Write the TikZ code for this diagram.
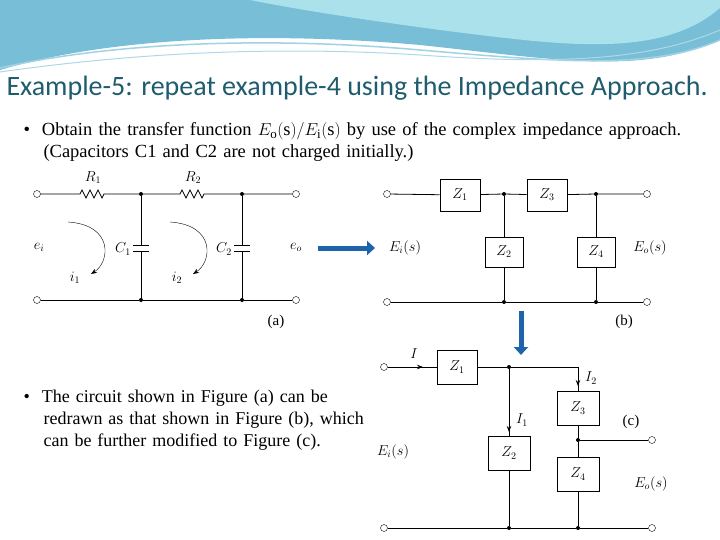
\documentclass[tikz,border=0pt]{standalone}
\usepackage{fontspec}
\setmainfont{Liberation Serif}
\newfontfamily\titlefont{Carlito}
\usetikzlibrary{positioning,arrows.meta}
\definecolor{titleteal}{RGB}{31,92,110}
\definecolor{wavea}{RGB}{120,190,215}
\definecolor{waveb}{RGB}{170,225,235}
\definecolor{bluearrow}{RGB}{30,100,170}
\begin{document}
\begin{tikzpicture}[x=1pt,y=-1pt,
    wire/.style={line width=0.8pt},
    zbox/.style={draw,line width=0.8pt,minimum width=40pt,minimum height=32pt,inner sep=0pt,font=\Large},
    term/.style={circle,draw,fill=white,inner sep=0pt,minimum size=7pt},
    dot/.style={circle,fill,inner sep=0pt,minimum size=4pt},
    lbl/.style={font=\Large},
    bigarrow/.style={-{Triangle[length=8pt,width=14pt]},line width=5pt,bluearrow}
  ]
  \useasboundingbox (0,0) rectangle (720,540);

  % header waves
  \fill[wavea] (0,0) -- (720,0) -- (720,40) .. controls (640,75) and (560,60) .. (420,45) .. controls (250,30) and (100,40) .. (0,70) -- cycle;
  \fill[waveb] (250,0) -- (720,0) -- (720,8) .. controls (660,60) and (560,45) .. (440,30) .. controls (350,18) and (290,8) .. (250,0) -- cycle;
  \draw[wavea!70!white,line width=1.5pt] (0,68) .. controls (100,45) and (250,35) .. (420,50) .. controls (560,62) and (650,70) .. (720,40);
  \draw[wavea!60!white,line width=1pt] (0,72) .. controls (120,55) and (260,45) .. (420,55) .. controls (560,65) and (650,60) .. (720,30);

  % title and bullets
  \node[anchor=west,font=\titlefont\fontsize{28}{30}\selectfont,text=titleteal] (title) at (3,88) {Example-5: repeat example-4 using the Impedance Approach.};
  \node[anchor=north west,text width=700pt,align=left,font=\fontsize{18.5}{22}\selectfont] (bul1) at (20,119)
    {\textbullet\hspace{12pt}Obtain the transfer function $E_{\mathrm{o}}(\mathrm{s})/E_{\mathrm{i}}(\mathrm{s})$ by use of the complex impedance approach.\\
     \hspace*{20pt}(Capacitors C1 and C2 are not charged initially.)};
  \node[anchor=north west,text width=360pt,align=left,font=\fontsize{18}{22}\selectfont] (bul2) at (20,386)
    {\textbullet\hspace{12pt}The circuit shown in Figure (a) can be\\
     \hspace*{20pt}redrawn as that shown in Figure (b), which\\
     \hspace*{20pt}can be further modified to Figure (c).};

  % circuit (a)
  \node[term] (a1) at (37,194) {};
  \node[term] (a2) at (37,300) {};
  \node[term] (a3) at (296,194) {};
  \node[term] (a4) at (296,300) {};
  \node[dot] (an1) at (141,194) {};
  \node[dot] (an2) at (242,194) {};
  \node[dot] (an3) at (141,300) {};
  \node[dot] (an4) at (242,300) {};
  \draw[wire] (a1) -- (80,194) -- ++(2,-4) -- ++(4,8) -- ++(4,-8) -- ++(4,8) -- ++(4,-8) -- ++(4,8) -- ++(2,-4) -- (an1) -- (180,194)
    -- ++(2,-4) -- ++(4,8) -- ++(4,-8) -- ++(4,8) -- ++(4,-8) -- ++(4,8) -- ++(2,-4) -- (an2) -- (a3);
  \draw[wire] (a2) -- (an3) -- (an4) -- (a4);
  \draw[wire] (an1) -- (141,245) (133,245) -- (149,245) (133,251) -- (149,251) (141,251) -- (an3);
  \draw[wire] (an2) -- (242,245) (234,245) -- (250,245) (234,251) -- (250,251) (242,251) -- (an4);
  \node[lbl] (r1) at (93,178) {$R_1$};
  \node[lbl] (r2) at (193,178) {$R_2$};
  \node[lbl] (c1) at (123,249) {$C_1$};
  \node[lbl] (c2) at (224,249) {$C_2$};
  \node[lbl] (ei) at (39,247) {$e_i$};
  \node[lbl] (eo) at (296,247) {$e_o$};
  \node[lbl] (i1) at (75,278) {$i_1$};
  \node[lbl] (i2) at (177,278) {$i_2$};
  \draw[-{Stealth[length=6pt]}] (68,222) .. controls (114,225) and (110,262) .. (91,274);
  \draw[-{Stealth[length=6pt]}] (170,222) .. controls (216,225) and (212,262) .. (193,274);
  \node[font=\fontsize{15}{17}\selectfont] (capa) at (276,322) {(a)};

  % arrows between figures
  \draw[bigarrow] (318,248) -- (375,248);
  \draw[bigarrow] (521,311) -- (521,355);

  % circuit (b)
  \node[term] (b1) at (387,194) {};
  \node[term] (b2) at (387,302) {};
  \node[term] (b3) at (647,194) {};
  \node[term] (b4) at (647,302) {};
  \node[zbox] (bz1) at (460,195) {$Z_1$};
  \node[zbox] (bz3) at (547,195) {$Z_3$};
  \node[zbox,minimum width=38pt,minimum height=30pt] (bz2) at (504,252) {$Z_2$};
  \node[zbox,minimum width=38pt,minimum height=30pt] (bz4) at (596,252) {$Z_4$};
  \node[dot] (bn1) at (504,194) {};
  \node[dot] (bn2) at (596,194) {};
  \node[dot] (bn3) at (504,302) {};
  \node[dot] (bn4) at (596,302) {};
  \draw[wire] (b1) -- (bz1) -- (bn1) -- (bz3) -- (bn2) -- (b3);
  \draw[wire] (b2) -- (bn3) -- (bn4) -- (b4);
  \draw[wire] (bn1) -- (bz2) -- (bn3);
  \draw[wire] (bn2) -- (bz4) -- (bn4);
  \node[lbl] (bei) at (405,248) {$E_i(s)$};
  \node[lbl] (beo) at (650,248) {$E_o(s)$};
  \node[font=\fontsize{15}{17}\selectfont] (capb) at (624,322) {(b)};

  % circuit (c)
  \node[term] (c1t) at (384,367) {};
  \node[term] (c2t) at (384,528) {};
  \node[term] (c3t) at (652,440) {};
  \node[term] (c4t) at (652,528) {};
  \node[zbox,minimum height=34pt] (cz1) at (457,367) {$Z_1$};
  \node[zbox,minimum width=42pt,minimum height=34pt] (cz2) at (509,453) {$Z_2$};
  \node[zbox,minimum width=42pt,minimum height=34pt] (cz3) at (578,408) {$Z_3$};
  \node[zbox,minimum width=42pt,minimum height=34pt] (cz4) at (578,474) {$Z_4$};
  \node[dot] (cn1) at (509,367) {};
  \node[dot] (cn2) at (578,440) {};
  \node[dot] (cn3) at (509,528) {};
  \node[dot] (cn4) at (578,528) {};
  \coordinate (ccorner) at (578,367);
  \draw[wire] (c1t) -- (cz1) -- (cn1) -- (ccorner) -- (cz3) -- (cn2) -- (cz4) -- (cn4);
  \draw[wire] (cn2) -- (c3t);
  \draw[wire] (cn1) -- (cz2) -- (cn3);
  \draw[wire] (c2t) -- (cn3) -- (cn4) -- (c4t);
  \draw[-{Stealth[length=6pt]},wire] (c1t) -- (423,367);
  \draw[-{Stealth[length=6pt]},wire] (ccorner) -- (578,386);
  \draw[-{Stealth[length=6pt]},wire] (cn1) -- (509,432);
  \node[lbl] (ci) at (414,354) {$I$};
  \node[lbl] (ci2) at (591,378) {$I_2$};
  \node[lbl] (ci1) at (522,420) {$I_1$};
  \node[lbl] (cei) at (393,452) {$E_i(s)$};
  \node[lbl] (ceo) at (651,484) {$E_o(s)$};
  \node[font=\fontsize{15}{17}\selectfont] (capc) at (631,422) {(c)};
\end{tikzpicture}
\end{document}
